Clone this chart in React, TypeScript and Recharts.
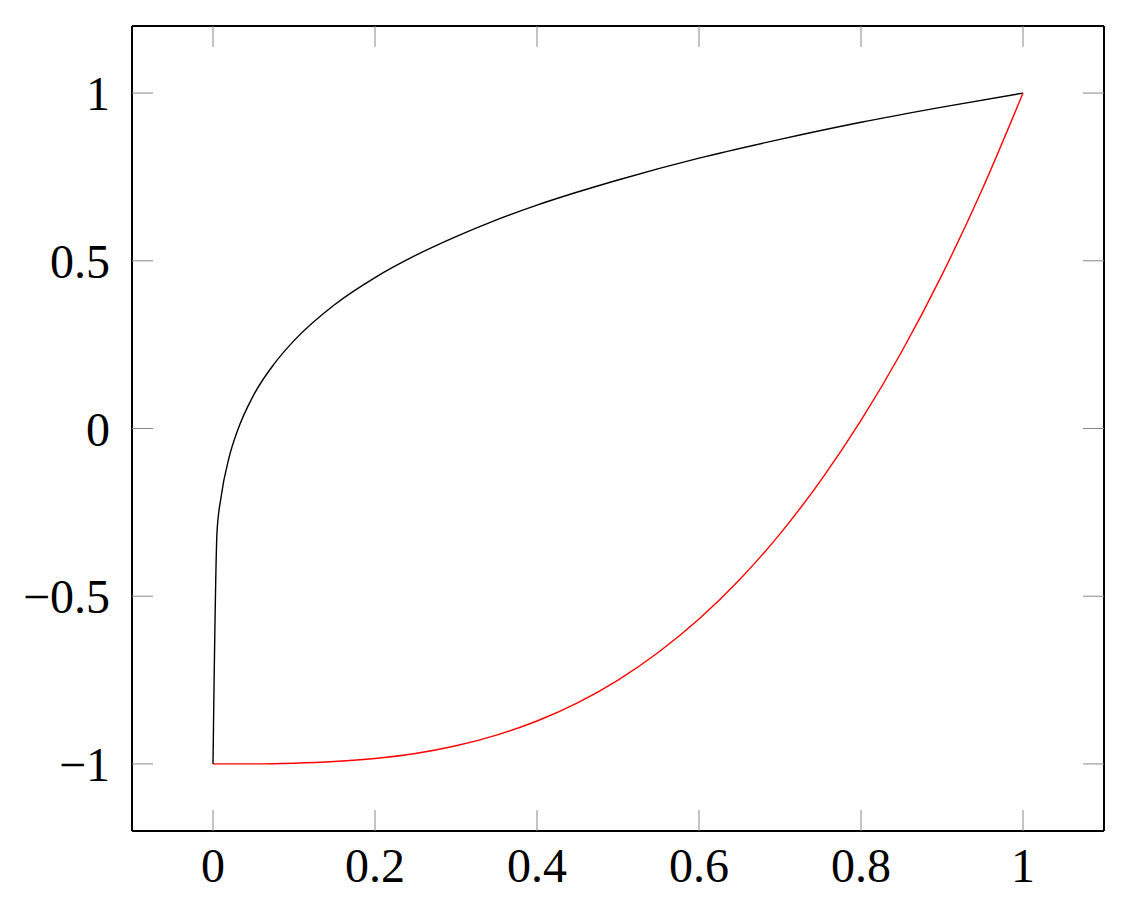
import { LineChart, Line, XAxis, YAxis } from "recharts";

// black curve (dense near x = 0 where it is steep)
const blackX = [0, 0.005, 0.01, 0.02, 0.03, 0.05, 0.075, 0.1, 0.15, 0.2, 0.25, 0.3, 0.35, 0.4, 0.45, 0.5, 0.6, 0.7, 0.8, 0.9, 1];
const blackY = [-1, -0.307, -0.204, -0.085, -0.008, 0.099, 0.191, 0.262, 0.369, 0.45, 0.516, 0.572, 0.622, 0.666, 0.705, 0.741, 0.806, 0.862, 0.913, 0.958, 1];

// red curve
const redX = [0, 0.05, 0.1, 0.15, 0.2, 0.25, 0.3, 0.35, 0.4, 0.45, 0.5, 0.55, 0.6, 0.65, 0.7, 0.75, 0.8, 0.85, 0.9, 0.95, 1];
const redY = [-1, -1, -0.998, -0.993, -0.984, -0.969, -0.946, -0.914, -0.872, -0.818, -0.75, -0.667, -0.568, -0.451, -0.314, -0.156, 0.024, 0.228, 0.458, 0.715, 1];

const xTicks = [0, 0.2, 0.4, 0.6, 0.8, 1];
const yTicks = [-1, -0.5, 0, 0.5, 1];

const blackData = blackX.map((x, i) => ({ x, y: blackY[i] }));
const redData = redX.map((x, i) => ({ x, y: redY[i] }));

const fmt = (v: number) => (v < 0 ? "\u2212" + String(-v) : String(v));

const W = 1120;
const H = 905;
const margin = { top: 18, right: 24, left: 14, bottom: 22 };
const X_AXIS_H = 60;
const Y_AXIS_W = 110;
const PLOT_W = W - margin.left - margin.right - Y_AXIS_W;
const PLOT_H = H - margin.top - margin.bottom - X_AXIS_H;
const X_GAP = 17;
const Y_GAP = 22;
const TICK = 21;

const font = "'Liberation Serif', serif";
const frame = { stroke: "#000", strokeWidth: 2 };

// pgfplots style: grey tick marks pointing inwards on both opposite sides
const XTick = ({ x, y, payload }: any) => {
  const bottom = y - X_GAP;
  const top = bottom - PLOT_H;
  return (
    <g>
      <line x1={x} x2={x} y1={bottom} y2={bottom - TICK} stroke="#888" strokeWidth={1} />
      <line x1={x} x2={x} y1={top} y2={top + TICK} stroke="#888" strokeWidth={1} />
      <text x={x} y={y} dy="0.71em" textAnchor="middle" fontFamily={font} fontSize={48} fill="#000">
        {fmt(payload.value)}
      </text>
    </g>
  );
};

const YTick = ({ x, y, payload }: any) => {
  const left = x + Y_GAP;
  const right = left + PLOT_W;
  return (
    <g>
      <line x1={left} x2={left + TICK} y1={y} y2={y} stroke="#888" strokeWidth={1} />
      <line x1={right} x2={right - TICK} y1={y} y2={y} stroke="#888" strokeWidth={1} />
      <text x={x} y={y} dy="0.355em" textAnchor="end" fontFamily={font} fontSize={48} fill="#000">
        {fmt(payload.value)}
      </text>
    </g>
  );
};

const App = () => {
  return (
    <LineChart width={W} height={H} margin={margin}>
      <XAxis
        xAxisId="x"
        type="number"
        dataKey="x"
        domain={[-0.1, 1.1]}
        allowDataOverflow
        ticks={xTicks}
        interval={0}
        tick={<XTick />}
        tickLine={false}
        tickSize={0}
        tickMargin={X_GAP}
        axisLine={frame}
        height={X_AXIS_H}
      />
      <YAxis
        yAxisId="y"
        type="number"
        dataKey="y"
        domain={[-1.2, 1.2]}
        allowDataOverflow
        ticks={yTicks}
        interval={0}
        tick={<YTick />}
        tickLine={false}
        tickSize={0}
        tickMargin={Y_GAP}
        axisLine={frame}
        width={Y_AXIS_W}
      />
      {/* top and right sides of the box */}
      <XAxis xAxisId="xt" type="number" orientation="top" mirror domain={[-0.1, 1.1]} tick={false} tickLine={false} axisLine={frame} />
      <YAxis yAxisId="yr" type="number" orientation="right" mirror domain={[-1.2, 1.2]} tick={false} tickLine={false} axisLine={frame} />

      <Line
        xAxisId="x"
        yAxisId="y"
        data={blackData}
        dataKey="y"
        type="monotone"
        stroke="#000"
        strokeWidth={1.4}
        dot={false}
        isAnimationActive={false}
      />
      <Line
        xAxisId="x"
        yAxisId="y"
        data={redData}
        dataKey="y"
        type="monotone"
        stroke="#ff0000"
        strokeWidth={1.4}
        dot={false}
        isAnimationActive={false}
      />
    </LineChart>
  );
};

export default App;
